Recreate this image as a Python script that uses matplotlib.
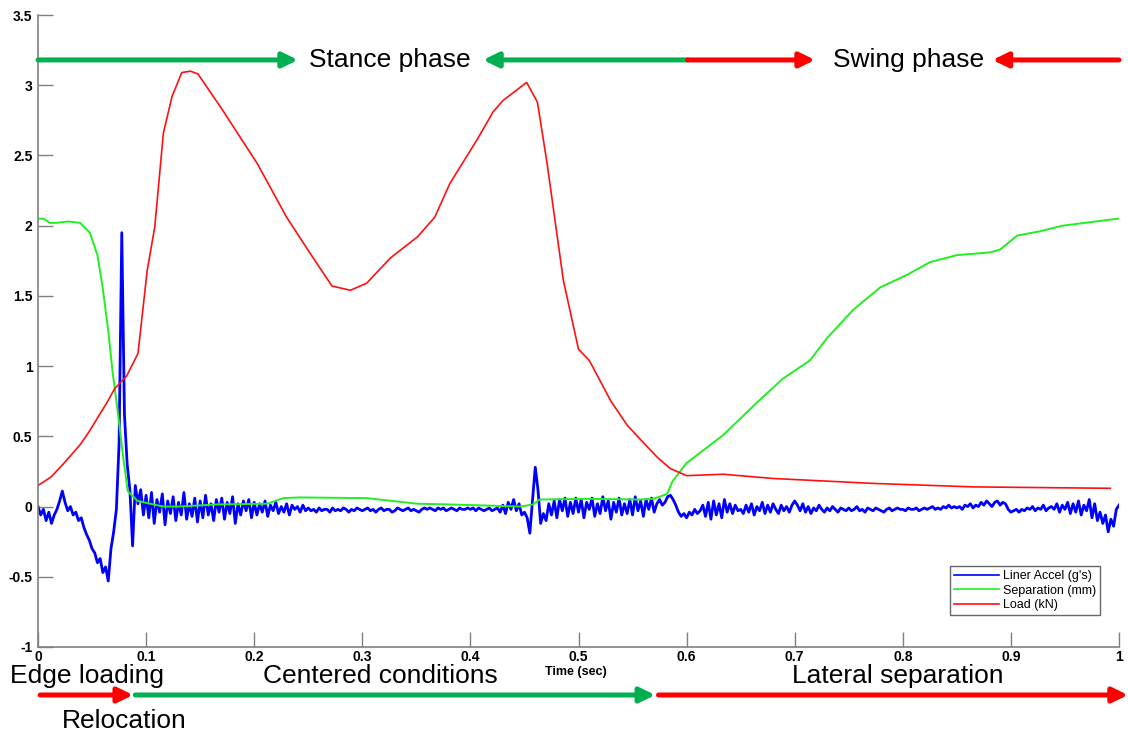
import numpy as np
import matplotlib.pyplot as plt
from matplotlib.patches import ArrowStyle
from matplotlib.ticker import FuncFormatter, MultipleLocator

plt.rcParams['font.family'] = ['Liberation Sans', 'DejaVu Sans']

# load cell (kN)
load_t = [0, 0.012, 0.023, 0.031, 0.039, 0.047, 0.055, 0.063, 0.071, 0.082,
          0.0925, 0.101, 0.108, 0.116, 0.124, 0.133, 0.141, 0.148, 0.171, 0.203,
          0.230, 0.252, 0.272, 0.289, 0.304, 0.326, 0.351, 0.367, 0.381, 0.406,
          0.421, 0.430, 0.452, 0.462, 0.471, 0.486, 0.500, 0.510, 0.530, 0.545,
          0.557, 0.573, 0.585, 0.600, 0.634, 0.680, 0.772, 0.865, 0.992]
load = [0.15, 0.21, 0.30, 0.37, 0.44, 0.53, 0.63, 0.73, 0.84, 0.93,
        1.09, 1.68, 1.99, 2.66, 2.92, 3.09, 3.10, 3.08, 2.82, 2.44,
        2.06, 1.80, 1.57, 1.54, 1.59, 1.77, 1.92, 2.06, 2.30, 2.61,
        2.81, 2.89, 3.02, 2.88, 2.44, 1.61, 1.12, 1.04, 0.75, 0.58,
        0.48, 0.35, 0.27, 0.22, 0.23, 0.20, 0.165, 0.14, 0.13]

# head/liner separation (mm)
sep_t = [0, 0.005, 0.011, 0.017, 0.028, 0.039, 0.048, 0.055, 0.060, 0.065,
         0.069, 0.074, 0.079, 0.083, 0.092, 0.104, 0.116, 0.13, 0.166, 0.212,
         0.227, 0.242, 0.304, 0.351, 0.381, 0.446, 0.458, 0.464, 0.508, 0.557,
         0.569, 0.575, 0.582, 0.587, 0.600, 0.634, 0.665, 0.689, 0.714, 0.730,
         0.754, 0.779, 0.804, 0.825, 0.850, 0.881, 0.890, 0.906, 0.927, 0.948,
         0.999]
separation = [2.05, 2.05, 2.02, 2.02, 2.03, 2.02, 1.95, 1.79, 1.55, 1.25,
              0.96, 0.66, 0.34, 0.11, 0.04, 0.02, 0.0, 0.0, 0.015, 0.02,
              0.06, 0.065, 0.06, 0.02, 0.015, 0.0, 0.015, 0.05, 0.055, 0.05,
              0.055, 0.07, 0.09, 0.18, 0.31, 0.51, 0.74, 0.91, 1.04, 1.20,
              1.40, 1.56, 1.65, 1.74, 1.79, 1.81, 1.83, 1.93, 1.96, 2.00,
              2.05]

# liner acceleration (g's), sampled every 2.5 ms
accel = [
    0.00, -0.06, -0.02, -0.10, -0.04, -0.12, -0.06, -0.02, 0.04, 0.11,
    0.03, -0.03, 0.00, -0.06, -0.04, -0.10, -0.08, -0.15, -0.20, -0.24,
    -0.30, -0.33, -0.40, -0.37, -0.47, -0.43, -0.53, -0.30, -0.18, -0.02,
    0.45, 1.95, 0.65, 0.30, 0.12, -0.28, 0.15, 0.02, 0.12, -0.06,
    0.08, -0.08, 0.10, -0.12, 0.05, -0.04, 0.09, -0.13, 0.04, -0.05,
    0.07, -0.10, 0.03, -0.06, 0.10, -0.09, 0.02, -0.07, 0.06, -0.11,
    0.04, -0.08, 0.08, -0.06, 0.02, -0.10, 0.05, -0.04, 0.06, -0.09,
    0.03, -0.05, 0.07, -0.12, 0.02, -0.06, 0.04, -0.03, 0.05, -0.08,
    0.03, -0.06, 0.02, -0.04, 0.04, -0.07, 0.01, -0.03, 0.03, -0.05,
    0.00, -0.04, 0.02, -0.06, 0.01, -0.02, 0.00, -0.04, 0.01, -0.03,
    -0.01, -0.03, -0.02, -0.04, -0.01, -0.03, -0.02, -0.02, -0.04, -0.01,
    -0.03, -0.02, -0.03, -0.01, -0.02, -0.04, -0.02, -0.03, -0.01, -0.02,
    -0.03, -0.02, -0.01, -0.03, -0.02, -0.04, -0.02, -0.01, -0.03, -0.02,
    -0.02, -0.04, -0.03, -0.01, -0.02, -0.03, -0.02, -0.01, -0.03, -0.02,
    -0.03, -0.04, -0.02, -0.01, -0.02, -0.01, -0.02, -0.03, -0.01, -0.02,
    -0.01, -0.03, -0.02, -0.01, -0.02, -0.03, -0.01, -0.02, -0.02, -0.01,
    -0.02, -0.01, -0.03, -0.01, -0.02, -0.03, -0.02, -0.01, -0.03, -0.02,
    -0.01, -0.04, 0.01, -0.05, 0.03, -0.02, 0.05, -0.03, 0.02, -0.06,
    -0.04, -0.08, -0.19, 0.05, 0.28, 0.12, -0.12, -0.05, -0.10, 0.02,
    -0.06, 0.04, -0.08, 0.05, -0.03, 0.06, -0.07, 0.03, -0.05, 0.06,
    -0.04, 0.05, -0.08, 0.03, -0.02, 0.06, -0.07, 0.02, -0.05, 0.07,
    -0.03, 0.04, -0.09, 0.03, -0.04, 0.06, -0.06, 0.02, -0.05, 0.05,
    -0.06, 0.07, -0.03, 0.04, -0.07, 0.05, -0.02, 0.06, -0.04, 0.02,
    0.05, 0.01, 0.03, 0.07, 0.08, 0.05, 0.01, -0.04, -0.07, -0.05,
    -0.08, -0.04, -0.06, -0.02, -0.05, -0.03, 0.01, -0.07, 0.03, -0.09,
    0.04, -0.06, 0.02, -0.08, 0.05, -0.04, 0.02, -0.05, 0.01, -0.03,
    -0.02, -0.05, 0.01, -0.04, 0.02, -0.06, 0.00, -0.03, 0.03, -0.05,
    0.01, -0.04, 0.02, -0.02, -0.05, 0.01, -0.03, 0.00, -0.04, 0.01,
    0.04, 0.01, -0.03, 0.02, -0.04, 0.00, -0.05, -0.01, -0.03, 0.01,
    -0.02, -0.04, -0.01, -0.03, 0.00, -0.02, -0.04, -0.01, -0.02, -0.03,
    -0.01, -0.03, -0.02, 0.00, -0.03, -0.02, -0.04, -0.01, -0.02, -0.03,
    -0.01, -0.02, -0.03, -0.04, -0.02, -0.01, -0.03, -0.02, -0.01, -0.02,
    -0.02, -0.03, -0.01, -0.02, -0.02, -0.01, -0.03, -0.02, -0.01, -0.02,
    -0.01, 0.00, -0.02, -0.01, -0.02, 0.00, -0.01, 0.01, -0.01, 0.00,
    -0.01, 0.00, -0.02, 0.01, 0.00, 0.02, -0.01, 0.01, 0.00, 0.03,
    0.01, 0.04, 0.02, 0.00, 0.03, 0.04, 0.01, 0.03, 0.02, -0.02,
    -0.04, -0.03, -0.02, -0.04, -0.02, -0.03, -0.01, -0.02, 0.00, -0.03,
    -0.01, -0.02, 0.01, -0.03, -0.01, 0.00, -0.02, 0.02, -0.04, 0.01,
    -0.02, 0.03, -0.05, 0.02, -0.04, 0.04, -0.06, 0.01, -0.03, 0.05,
    -0.08, 0.02, -0.10, -0.04, -0.12, -0.06, -0.18, -0.09, -0.14, -0.02,
    0.01,
]
accel_t = np.linspace(0, 1, len(accel))

# gait phases (sec)
stance_end = 0.601
stance_label_x = [0.2405, 0.4117]
swing_label_x = [0.7188, 0.883]
relocation_t = 0.088
lateral_t = 0.572

GREEN = '#00b050'
RED = '#ff0000'
GRAY = '#808080'

fig = plt.figure(figsize=(11.28, 7.36), dpi=100)
ax = fig.add_axes([38 / 1128, 1 - 647 / 736, 1081 / 1128, 632 / 736])

ax.plot(accel_t, accel, color='#0000ff', lw=2.0, label="Liner Accel (g's)")
ax.plot(sep_t, separation, color='#22ee22', lw=1.4, label='Separation (mm)')
ax.plot(load_t, load, color='#ff1010', lw=1.2, label='Load (kN)')

ax.set_xlim(0, 1)
ax.set_ylim(-1, 3.5)
ax.xaxis.set_major_locator(MultipleLocator(0.1))
ax.yaxis.set_major_locator(MultipleLocator(0.5))
fmt = FuncFormatter(lambda v, pos: '%g' % round(v, 2))
ax.xaxis.set_major_formatter(fmt)
ax.yaxis.set_major_formatter(fmt)
ax.tick_params(direction='in', length=11, width=1, color=GRAY, labelsize=10)
ax.tick_params(axis='x', pad=2)
ax.tick_params(axis='y', pad=4)
for lbl in ax.get_xticklabels() + ax.get_yticklabels():
    lbl.set_fontweight('bold')
for side in ['top', 'right']:
    ax.spines[side].set_visible(False)
for side in ['left', 'bottom']:
    ax.spines[side].set_color(GRAY)
    ax.spines[side].set_linewidth(1.2)

ax.text(0.498, -1.175, 'Time (sec)', ha='center', va='center',
        fontsize=9, fontweight='bold')

leg = ax.legend(loc='lower right', bbox_to_anchor=(0.988, 0.041), fontsize=9,
                frameon=True, fancybox=False, handlelength=3.6,
                handletextpad=0.3, borderpad=0.3, labelspacing=0.2)
leg.get_frame().set_edgecolor('#404040')
leg.get_frame().set_linewidth(1.0)
for handle in leg.get_lines():
    handle.set_linewidth(1.2)

head = ArrowStyle('-|>', head_length=0.45, head_width=0.22)


def arrow(x0, x1, y, color, coords='data'):
    ax.annotate('', xy=(x1, y), xytext=(x0, y), xycoords=coords,
                textcoords=coords, annotation_clip=False,
                arrowprops=dict(arrowstyle=head, color=color, lw=3.6,
                                mutation_scale=20, shrinkA=0, shrinkB=0))


# stance / swing phase along the top
top_y = 3.18
arrow(0, stance_label_x[0], top_y, GREEN)
arrow(stance_end, stance_label_x[1], top_y, GREEN)
arrow(stance_end, swing_label_x[0], top_y, RED)
arrow(1.0, swing_label_x[1], top_y, RED)
ax.text(0.3256, top_y, 'Stance phase', ha='center', va='center', fontsize=19)
ax.text(0.805, top_y, 'Swing phase', ha='center', va='center', fontsize=19)

# contact conditions below the time axis
low = ('data', 'figure fraction')
bot_y = 1 - 695 / 736
txt_y = 1 - 676 / 736
arrow(0.002, relocation_t, bot_y, RED, low)
arrow(relocation_t + 0.002, lateral_t - 0.001, bot_y, GREEN, low)
arrow(lateral_t + 0.002, 1.0083, bot_y, RED, low)
ax.annotate('Edge loading', xy=(-0.026, txt_y), xycoords=low, ha='left',
            va='center', fontsize=19, annotation_clip=False)
ax.annotate('Centered conditions', xy=(0.317, txt_y), xycoords=low,
            ha='center', va='center', fontsize=19, annotation_clip=False)
ax.annotate('Lateral separation', xy=(0.795, txt_y), xycoords=low,
            ha='center', va='center', fontsize=19, annotation_clip=False)
ax.annotate('Relocation', xy=(0.0795, 1 - 721 / 736), xycoords=low,
            ha='center', va='center', fontsize=19, annotation_clip=False)

fig.savefig('out.png', dpi=100)
